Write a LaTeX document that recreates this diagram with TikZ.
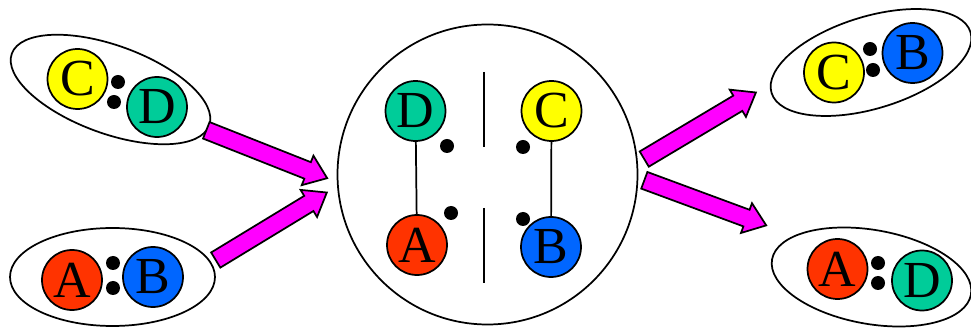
\documentclass[tikz,border=0pt]{standalone}
\usepackage{fontspec}
\setmainfont{Liberation Serif}
\usetikzlibrary{shapes.geometric,shapes.arrows}
\definecolor{atomA}{HTML}{FF3300}
\definecolor{atomB}{HTML}{0066FF}
\definecolor{atomC}{HTML}{FFFF00}
\definecolor{atomD}{HTML}{00CC99}
\definecolor{pushpink}{HTML}{FF00FF}
\begin{document}
\begin{tikzpicture}[x=.75pt,y=.75pt,
  atom/.style={circle,draw,line width=1.3pt,minimum size=45pt,inner sep=0pt,font=\fontsize{39}{40}\selectfont},
  pairbox/.style={ellipse,draw,line width=1.3pt,inner sep=0pt},
  bond/.style={circle,fill=black,minimum size=10.5pt,inner sep=0pt},
  push/.style={single arrow,draw,line width=1.3pt,fill=pushpink,anchor=tail,minimum height=97.5pt,
    inner sep=0pt,inner ysep=6pt,single arrow head extend=5.25pt,single arrow tip angle=74}]
\useasboundingbox (0,0) rectangle (971,328);
% left, top pair
\node[pairbox,rotate=-20,minimum width=157.5pt,minimum height=66pt] (pairCD) at (110.5,238.5) {};
\node[atom,fill=atomC] (c1) at (77.5,249) {C};
\node[atom,fill=atomD] (d1) at (157,221) {D};
\node[bond] (cd1) at (118,246) {};
\node[bond] (cd2) at (114,226) {};
% left, bottom pair
\node[pairbox,minimum width=153.75pt,minimum height=73.5pt] (pairAB) at (112.5,51) {};
\node[atom,fill=atomA] (a1) at (72,48) {A};
\node[atom,fill=atomB] (b1) at (153,51) {B};
\node[bond] (ab1) at (113,65) {};
\node[bond] (ab2) at (113,40) {};
% middle
\node[circle,draw,line width=1.3pt,minimum size=225pt,inner sep=0pt] (vessel) at (487.5,153.5) {};
\node[atom,fill=atomD] (d2) at (415.5,217) {D};
\node[atom,fill=atomC] (c2) at (551.5,217) {C};
\node[atom,fill=atomA] (a2) at (417,83) {A};
\node[atom,fill=atomB] (b2) at (551,81) {B};
\draw[line width=1.3pt] (d2) -- (a2);
\draw[line width=1.3pt] (c2) -- (b2);
\node[bond] (m1) at (447,182) {};
\node[bond] (m2) at (523,181) {};
\node[bond] (m3) at (451,115) {};
\node[bond] (m4) at (523,109) {};
\draw[line width=1.3pt] (484,256) -- (484,181);
\draw[line width=1.3pt] (484,120) -- (484,45);
% right, top pair
\node[pairbox,rotate=17,minimum width=156pt,minimum height=69pt] (pairCB) at (871,265.5) {};
\node[atom,fill=atomC] (c3) at (834,255.5) {C};
\node[atom,fill=atomB] (b3) at (912.5,275) {B};
\node[bond] (cb1) at (870,279) {};
\node[bond] (cb2) at (873,258) {};
% right, bottom pair
\node[pairbox,rotate=-10,minimum width=151.5pt,minimum height=70.5pt] (pairAD) at (871.5,51) {};
\node[atom,fill=atomA] (a3) at (837.5,59) {A};
\node[atom,fill=atomD] (d3) at (922,47.5) {D};
\node[bond] (ad1) at (878,65) {};
\node[bond] (ad2) at (878,45) {};
% arrows
\coordinate (inTop) at (205.5,198);
\coordinate (inBot) at (215,67.5);
\coordinate (outTop) at (643.5,168.5);
\coordinate (outBot) at (643.5,148);
\node[push,rotate=-21.6] (arIn1) at (inTop) {};
\node[push,rotate=31.3] (arIn2) at (inBot) {};
\node[push,rotate=30.8] (arOut1) at (outTop) {};
\node[push,rotate=-20.3] (arOut2) at (outBot) {};
\end{tikzpicture}
\end{document}
